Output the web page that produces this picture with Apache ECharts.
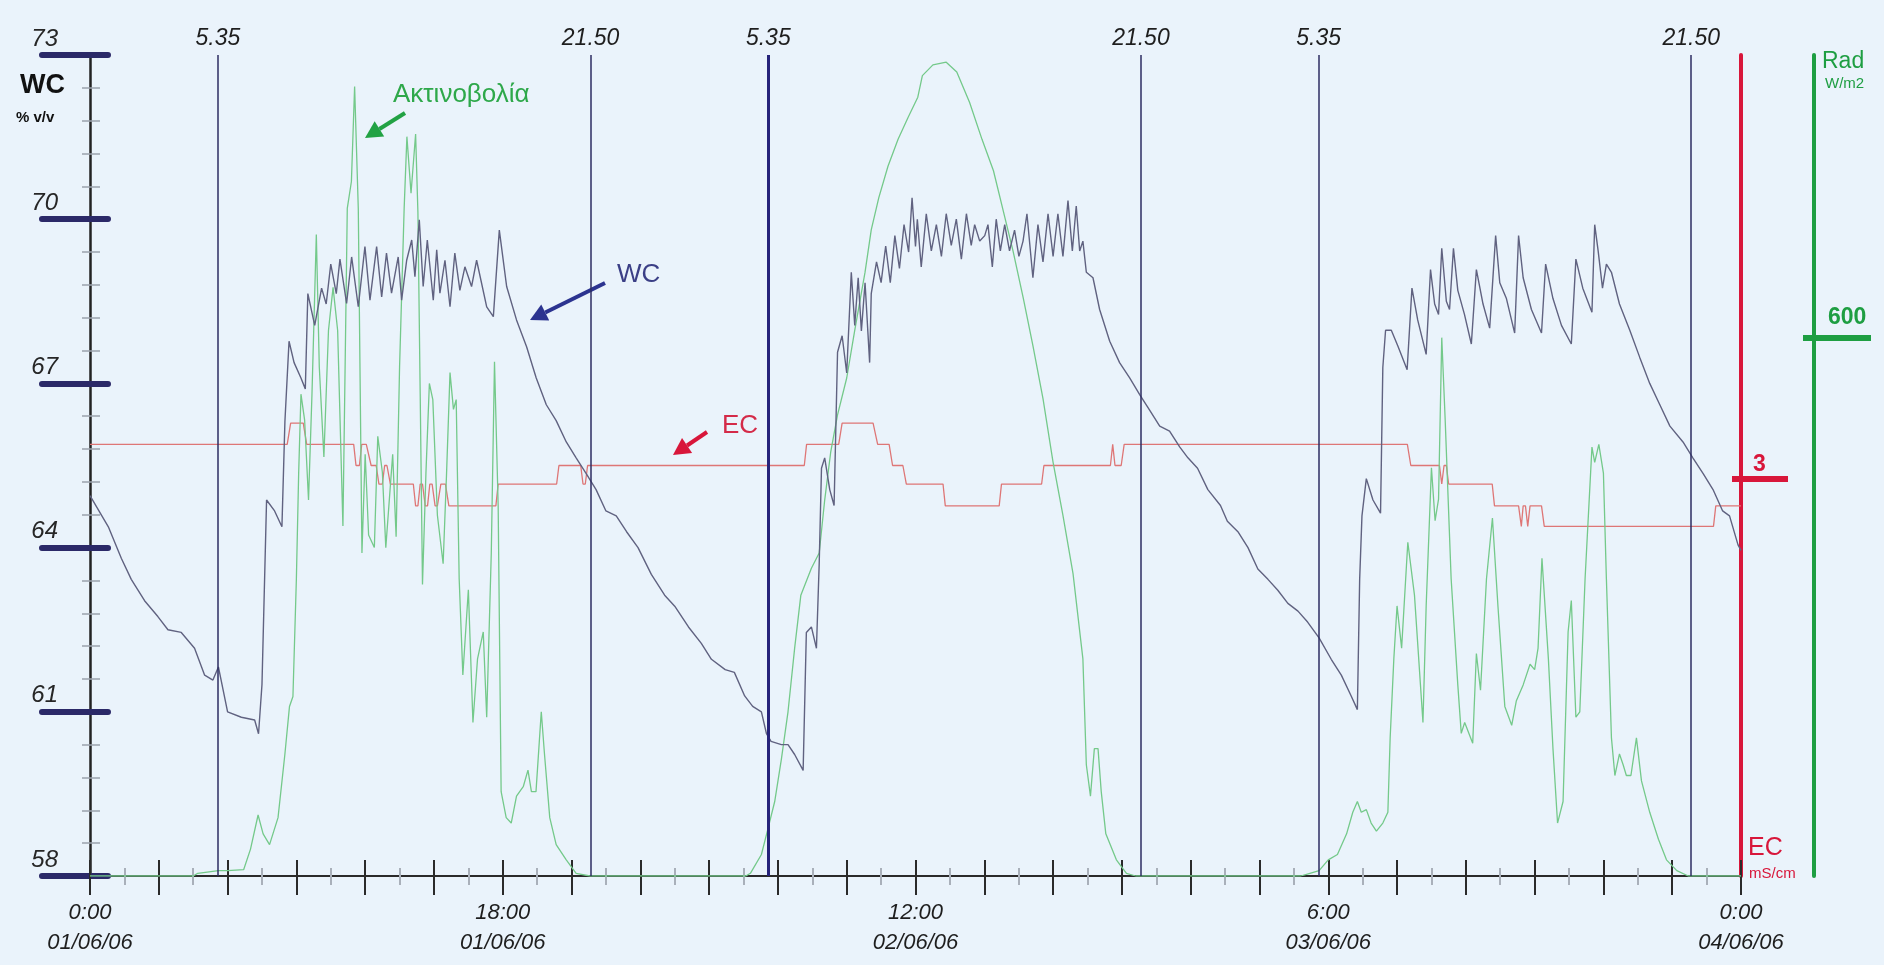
<!DOCTYPE html>
<html lang="el">
<head>
    <meta charset="UTF-8">
    <title>WC - EC - Rad</title>
    <script src="https://cdn.jsdelivr.net/npm/echarts@6/dist/echarts.min.js"></script>
    <style>
        html, body { margin: 0; padding: 0; background: #eaf3fb; }
        #main { width: 1884px; height: 965px; }
    </style>
</head>
<body>
<div id="main"></div>
<script>
    // hours from 01/06/06 0:00
    var xLabelHours = [0, 18, 36, 54, 72];
    var xLabelText = ['0:00\n01/06/06', '18:00\n01/06/06', '12:00\n02/06/06', '6:00\n03/06/06', '0:00\n04/06/06'];

    var markHours = [5.583, 21.833, 29.583, 45.833, 53.583, 69.833];
    var markText = ['5.35', '21.50', '5.35', '21.50', '5.35', '21.50'];

    // WC % v/v
    var wcData = [
        [0, 64.95], [0.8, 64.38], [1.37, 63.8], [1.8, 63.42], [2.38, 63.03], [2.96, 62.74], [3.4, 62.5], [3.98, 62.45],
        [4.56, 62.16], [5.0, 61.67], [5.36, 61.58], [5.6, 61.82], [6.0, 61.0], [6.6, 60.9], [7.18, 60.85], [7.35, 60.6],
        [7.5, 61.5], [7.7, 64.87], [8.05, 64.67], [8.37, 64.38], [8.5, 66.3], [8.68, 67.77], [8.9, 67.38], [9.2, 67.1],
        [9.39, 66.9], [9.5, 68.64], [9.8, 68.06], [10.1, 68.74], [10.3, 68.45], [10.5, 69.18], [10.74, 68.64], [10.9, 69.27],
        [11.19, 68.46], [11.41, 69.31], [11.7, 68.4], [11.99, 69.5], [12.21, 68.52], [12.5, 69.5], [12.72, 68.58], [12.93, 69.38],
        [13.15, 68.65], [13.44, 69.31], [13.59, 68.52], [13.81, 69.25], [14.03, 69.62], [14.17, 68.95], [14.36, 69.99], [14.53, 68.77],
        [14.71, 69.62], [14.97, 68.52], [15.12, 69.44], [15.26, 68.65], [15.48, 69.25], [15.7, 68.4], [15.91, 69.38], [16.13, 68.7],
        [16.35, 69.13], [16.64, 68.77], [16.86, 69.25], [17.3, 68.4], [17.59, 68.22], [17.85, 69.8], [18.17, 68.77], [18.6, 68.16],
        [19.04, 67.67], [19.46, 67.1], [19.9, 66.61], [20.33, 66.32], [20.77, 65.93], [21.2, 65.64], [21.64, 65.35], [22.07, 65.06],
        [22.5, 64.67], [22.95, 64.58], [23.4, 64.29], [23.9, 64.0], [24.48, 63.51], [25.06, 63.13], [25.5, 62.93], [26.1, 62.55],
        [26.66, 62.25], [27.1, 61.96], [27.7, 61.77], [28.1, 61.72], [28.55, 61.29], [28.9, 61.1], [29.28, 61.0], [29.5, 60.6],
        [29.7, 60.46], [30.15, 60.4], [30.44, 60.4], [30.73, 60.22], [31.1, 59.93], [31.24, 62.45], [31.46, 62.55], [31.68, 62.16],
        [31.8, 63.7], [31.9, 65.45], [32.04, 65.64], [32.26, 65.06], [32.45, 64.77], [32.6, 67.57], [32.8, 67.87], [33.0, 67.19],
        [33.2, 69.03], [33.35, 68.06], [33.5, 68.93], [33.64, 67.96], [33.8, 68.84], [34.0, 67.38], [34.07, 68.64], [34.3, 69.22],
        [34.5, 68.84], [34.7, 69.51], [34.9, 68.84], [35.1, 69.7], [35.3, 69.1], [35.5, 69.9], [35.7, 69.4], [35.85, 70.39],
        [36.0, 69.5], [36.08, 70.0], [36.25, 69.13], [36.47, 70.1], [36.69, 69.42], [36.91, 69.9], [37.13, 69.32], [37.34, 70.1],
        [37.56, 69.52], [37.78, 70.0], [38.0, 69.27], [38.22, 70.1], [38.43, 69.52], [38.58, 69.9], [38.8, 69.6], [39.02, 69.7],
        [39.16, 69.9], [39.35, 69.13], [39.52, 70.0], [39.7, 69.42], [39.89, 69.9], [40.1, 69.42], [40.32, 69.8], [40.51, 69.32],
        [40.69, 69.6], [40.86, 70.1], [41.12, 68.93], [41.34, 69.9], [41.56, 69.22], [41.78, 70.1], [42.0, 69.32], [42.21, 70.1],
        [42.43, 69.32], [42.65, 70.34], [42.84, 69.42], [43.01, 70.24], [43.16, 69.42], [43.3, 69.6], [43.45, 69.03], [43.74, 68.93],
        [44.03, 68.35], [44.47, 67.77], [44.9, 67.38], [45.34, 67.1], [45.77, 66.8], [46.21, 66.51], [46.65, 66.22], [47.08, 66.13],
        [47.52, 65.84], [47.88, 65.64], [48.3, 65.45], [48.75, 65.06], [49.3, 64.77], [49.6, 64.48], [50.06, 64.29], [50.5, 64.0],
        [50.93, 63.61], [51.37, 63.42], [51.8, 63.22], [52.24, 62.98], [52.68, 62.84], [53.1, 62.64], [53.6, 62.35], [54.13, 61.96],
        [54.57, 61.67], [55.0, 61.29], [55.27, 61.04], [55.37, 63.42], [55.47, 64.58], [55.66, 65.26], [55.95, 64.87], [56.28, 64.63],
        [56.38, 67.29], [56.5, 67.97], [56.75, 67.97], [57.04, 67.68], [57.44, 67.25], [57.65, 68.74], [57.9, 68.16], [58.27, 67.53],
        [58.46, 69.08], [58.64, 68.45], [58.81, 68.26], [58.95, 69.47], [59.15, 68.5], [59.29, 68.35], [59.46, 69.47], [59.65, 68.7],
        [59.94, 68.26], [60.24, 67.72], [60.46, 69.08], [60.75, 68.45], [61.04, 68.01], [61.3, 69.7], [61.48, 68.84], [61.77, 68.55],
        [62.13, 67.92], [62.3, 69.7], [62.5, 68.93], [62.86, 68.35], [63.3, 67.92], [63.48, 69.18], [63.8, 68.55], [64.17, 68.06],
        [64.6, 67.72], [64.8, 69.27], [65.1, 68.74], [65.5, 68.3], [65.62, 69.9], [65.77, 69.42], [65.96, 68.74], [66.13, 69.18],
        [66.35, 69.03], [66.7, 68.45], [67.15, 67.97], [67.58, 67.48], [68.02, 67.0], [68.46, 66.61], [68.9, 66.22], [69.47, 65.93],
        [69.9, 65.64], [70.35, 65.35], [70.78, 65.06], [71.2, 64.67], [71.5, 64.58], [71.87, 64.05], [72, 63.95]
    ];

    // radiation W/m2
    var radData = [
        [0, 0], [4.5, 0], [4.7, 3], [5.6, 6], [6.0, 6], [6.7, 7], [7.0, 30], [7.33, 68], [7.55, 47], [7.83, 35], [8.2, 65],
        [8.5, 136], [8.7, 189], [8.85, 200], [9.0, 331], [9.1, 449], [9.2, 537], [9.36, 508], [9.53, 419], [9.68, 537],
        [9.87, 715], [10.0, 567], [10.2, 467], [10.4, 608], [10.6, 656], [10.8, 608], [11.03, 390], [11.22, 744], [11.4, 774],
        [11.54, 880], [11.7, 744], [11.86, 360], [12.0, 470], [12.15, 380], [12.4, 366], [12.55, 490], [12.75, 450], [12.9, 366],
        [13.2, 470], [13.35, 378], [13.5, 567], [13.7, 744], [13.82, 824], [14.0, 761], [14.2, 827], [14.3, 740], [14.4, 537],
        [14.5, 325], [14.65, 449], [14.8, 549], [14.95, 531], [15.15, 402], [15.4, 348], [15.55, 449], [15.7, 561], [15.85, 520],
        [15.97, 531], [16.1, 331], [16.26, 224], [16.5, 319], [16.7, 171], [16.9, 242], [17.15, 272], [17.3, 177], [17.5, 360],
        [17.64, 573], [17.8, 413], [17.93, 94], [18.15, 65], [18.37, 59], [18.6, 89], [18.9, 100], [19.1, 118], [19.25, 94],
        [19.45, 94], [19.68, 183], [19.82, 136], [20.05, 65], [20.33, 35], [20.77, 18], [21.2, 3], [21.8, 0],
        [28.6, 0], [28.8, 3], [29.28, 24], [29.57, 53], [29.86, 83], [30.15, 130], [30.44, 183], [30.73, 254], [31.0, 313],
        [31.46, 343], [31.8, 360], [32.04, 419], [32.3, 472], [32.6, 514], [33.0, 555], [33.35, 608], [33.8, 673], [34.07, 720],
        [34.4, 756], [34.8, 791], [35.24, 821], [35.67, 845], [36.1, 868], [36.3, 892], [36.76, 904], [37.34, 907], [37.8, 896],
        [38.36, 862], [38.9, 821], [39.4, 786], [39.8, 744], [40.25, 697], [40.7, 644], [41.12, 591], [41.56, 532], [42.0, 461],
        [42.43, 402], [42.87, 337], [43.3, 242], [43.45, 124], [43.63, 89], [43.8, 142], [43.96, 142], [44.1, 94], [44.3, 47],
        [44.76, 18], [45.2, 3], [45.6, 0],
        [52.8, 0], [53.2, 3], [53.6, 6], [54.0, 18], [54.4, 24], [54.8, 47], [55.07, 71], [55.27, 83], [55.44, 71], [55.66, 74],
        [55.87, 59], [56.1, 50], [56.38, 59], [56.6, 71], [56.7, 154], [56.86, 242], [57.0, 301], [57.2, 254], [57.47, 372],
        [57.76, 313], [58.13, 171], [58.27, 301], [58.5, 455], [58.66, 396], [58.81, 420], [58.95, 600], [59.1, 508], [59.36, 331],
        [59.65, 213], [59.8, 159], [59.95, 171], [60.3, 148], [60.46, 248], [60.64, 207], [60.9, 331], [61.16, 399], [61.4, 301],
        [61.7, 189], [62.0, 168], [62.2, 195], [62.5, 213], [62.8, 236], [63.0, 230], [63.15, 254], [63.32, 354], [63.6, 242],
        [63.8, 142], [64.0, 59], [64.24, 83], [64.46, 272], [64.6, 307], [64.8, 177], [64.97, 183], [65.2, 331], [65.5, 478],
        [65.62, 461], [65.8, 481], [66.0, 449], [66.13, 331], [66.35, 154], [66.5, 112], [66.7, 136], [66.86, 124], [67.0, 112],
        [67.2, 112], [67.44, 154], [67.66, 106], [68.02, 71], [68.4, 41], [68.75, 18], [69.2, 6], [69.7, 0], [72, 0]
    ];

    // EC mS/cm
    var ecData = [
        [0, 3.26], [8.6, 3.26], [8.75, 3.42], [9.3, 3.42], [9.45, 3.26], [11.5, 3.26], [11.6, 3.10], [11.75, 3.10], [11.85, 3.26],
        [12.05, 3.26], [12.26, 3.10], [12.48, 3.10], [12.6, 2.96], [12.75, 2.96], [12.85, 3.10], [12.95, 3.10], [13.1, 2.96],
        [14.1, 2.96], [14.2, 2.795], [14.3, 2.795], [14.4, 2.96], [14.5, 2.96], [14.62, 2.795], [14.72, 2.795], [14.82, 2.96],
        [14.92, 2.96], [15.05, 2.795], [15.15, 2.795], [15.3, 2.96], [15.5, 2.96], [15.65, 2.795], [17.7, 2.795], [17.8, 2.96],
        [20.35, 2.96], [20.45, 3.10], [21.4, 3.10], [21.5, 2.96], [21.6, 2.96], [21.7, 3.10],
        [31.15, 3.10], [31.25, 3.26], [32.65, 3.26], [32.8, 3.42], [34.15, 3.42], [34.35, 3.26], [34.85, 3.26], [35.0, 3.10],
        [35.45, 3.10], [35.6, 2.96], [37.2, 2.96], [37.3, 2.795], [39.65, 2.795], [39.75, 2.96], [41.5, 2.96], [41.6, 3.10],
        [44.5, 3.10], [44.6, 3.26], [44.7, 3.10], [44.97, 3.10], [45.1, 3.26],
        [57.45, 3.26], [57.6, 3.10], [58.85, 3.10], [58.95, 2.96], [59.05, 3.10], [59.15, 3.10], [59.25, 2.96], [61.15, 2.96],
        [61.25, 2.795], [62.3, 2.795], [62.42, 2.64], [62.5, 2.795], [62.6, 2.795], [62.7, 2.64], [62.8, 2.795], [63.3, 2.795],
        [63.42, 2.64], [70.8, 2.64], [70.9, 2.795], [72, 2.795]
    ];

    var navy = '#2b2968';
    var red = '#d8163a';
    var green = '#1e9e42';
    var font = '"Liberation Sans", Arial, sans-serif';

    function arrow(x1, y1, x2, y2, color)
    {
        var a = Math.atan2(y2 - y1, x2 - x1);
        var len = 17, half = 9;
        var bx = x2 - len * Math.cos(a), by = y2 - len * Math.sin(a);
        var px = -Math.sin(a) * half, py = Math.cos(a) * half;
        return [
            { type: 'line', silent: true,
              shape: { x1: x1, y1: y1, x2: bx, y2: by },
              style: { stroke: color, lineWidth: 4 } },
            { type: 'polygon', silent: true,
              shape: { points: [[x2, y2], [bx + px, by + py], [bx - px, by - py]] },
              style: { fill: color } }
        ];
    }

    function txt(x, y, text, color, size, weight)
    {
        return { type: 'text', x: x, y: y, silent: true,
                 style: { text: text, fill: color, fontSize: size, fontWeight: weight || 'normal',
                          fontFamily: font, verticalAlign: 'top' } };
    }

    var chart = echarts.init(document.getElementById('main'));

    var markLines = markHours.map(function (h, i) {
        return {
            xAxis: h,
            label: { formatter: markText[i] },
            lineStyle: { type: 'solid', width: i === 2 ? 3 : 1.5, color: i === 2 ? '#26237a' : '#2c2d62' }
        };
    });

    var option = {
        backgroundColor: '#eaf3fb',
        animation: false,
        grid: { left: 90, right: 143, top: 55, bottom: 89 },
        xAxis: [{
            type: 'value', min: 0, max: 72, interval: 3, position: 'bottom',
            axisLine: { lineStyle: { color: '#2a2a2a', width: 2 } },
            axisTick: { length: 19, lineStyle: { color: '#2a2a2a', width: 2 } },
            minorTick: { show: true, splitNumber: 2, length: 9, lineStyle: { color: '#a9b0ba', width: 2 } },
            splitLine: { show: false },
            axisLabel: {
                customValues: xLabelHours,
                formatter: function (v) { return xLabelText[xLabelHours.indexOf(v)]; },
                margin: 22, fontSize: 22, lineHeight: 30, fontStyle: 'italic',
                color: '#1e1e1e', fontFamily: font
            }
        }, {
            type: 'value', min: 0, max: 72, interval: 3, position: 'bottom',
            axisLine: { show: false },
            axisTick: { inside: true, length: 16, lineStyle: { color: '#2a2a2a', width: 2 } },
            minorTick: { show: true, splitNumber: 2, length: 8, lineStyle: { color: '#a9b0ba', width: 2 } },
            splitLine: { show: false },
            axisLabel: { show: false }
        }],
        yAxis: [{
            type: 'value', min: 58, max: 73, interval: 3, position: 'left',
            axisLine: { show: true, lineStyle: { color: '#222', width: 2.5 } },
            axisTick: { length: 48, lineStyle: { color: navy, width: 6, cap: 'round' } },
            minorTick: { show: true, splitNumber: 5, length: 8, lineStyle: { color: '#9aa3ad', width: 1.5 } },
            splitLine: { show: false },
            axisLabel: {
                margin: 32, fontSize: 24, fontStyle: 'italic', color: '#262626', fontFamily: font,
                verticalAlign: 'bottom', padding: [0, 0, 4, 0]
            }
        }, {
            type: 'value', min: 58, max: 73, interval: 3, position: 'left',
            axisLine: { show: false },
            axisTick: { inside: true, length: 18, lineStyle: { color: navy, width: 6, cap: 'round' } },
            minorTick: { show: true, splitNumber: 5, length: 10, lineStyle: { color: '#9aa3ad', width: 1.5 } },
            splitLine: { show: false },
            axisLabel: { show: false }
        }, {
            type: 'value', min: 0, max: 6.2, position: 'right',
            axisLine: { show: true, lineStyle: { color: red, width: 4 } },
            axisTick: { customValues: [3], length: 47, lineStyle: { color: red, width: 6 } },
            splitLine: { show: false },
            axisLabel: {
                customValues: [3], margin: 12, fontSize: 23, fontWeight: 'bold', color: red, fontFamily: font,
                verticalAlign: 'bottom', padding: [0, 0, 3, 0]
            }
        }, {
            type: 'value', min: 0, max: 6.2, position: 'right',
            axisLine: { show: false },
            axisTick: { customValues: [3], inside: true, length: 9, lineStyle: { color: red, width: 6 } },
            splitLine: { show: false },
            axisLabel: { show: false }
        }, {
            type: 'value', min: 0, max: 915, position: 'right', offset: 73,
            axisLine: { show: true, lineStyle: { color: green, width: 4 } },
            axisTick: { customValues: [600], length: 57, lineStyle: { color: green, width: 6 } },
            splitLine: { show: false },
            axisLabel: {
                customValues: [600], margin: 14, fontSize: 23, fontWeight: 'bold', color: green, fontFamily: font,
                verticalAlign: 'bottom', padding: [0, 0, 8, 0]
            }
        }, {
            type: 'value', min: 0, max: 915, position: 'right', offset: 73,
            axisLine: { show: false },
            axisTick: { customValues: [600], inside: true, length: 11, lineStyle: { color: green, width: 6 } },
            splitLine: { show: false },
            axisLabel: { show: false }
        }],
        series: [{
            name: 'EC', type: 'line', yAxisIndex: 2, data: ecData,
            showSymbol: false, lineStyle: { color: '#de7676', width: 1.3 },
            markLine: {
                silent: true, symbol: 'none',
                label: { position: 'end', distance: 5, fontSize: 23, fontStyle: 'italic',
                         color: '#1e1e1e', fontFamily: font },
                data: markLines
            }
        }, {
            name: 'Rad', type: 'line', yAxisIndex: 4, data: radData,
            showSymbol: false, lineStyle: { color: '#74c98a', width: 1.3 }
        }, {
            name: 'WC', type: 'line', yAxisIndex: 0, data: wcData,
            showSymbol: false, lineStyle: { color: '#606280', width: 1.4 }
        }],
        graphic: [].concat(
            [txt(20, 72, 'WC', '#111', 27, 'bold'),
             txt(16, 110, '% v/v', '#111', 15, 'bold'),
             txt(393, 82, 'Ακτινοβολία', '#2ea84a', 26),
             txt(617, 262, 'WC', '#3b3f86', 26),
             txt(722, 413, 'EC', '#d42a48', 26),
             txt(1822, 50, 'Rad', green, 23),
             txt(1825, 76, 'W/m2', green, 15),
             txt(1748, 836, 'EC', red, 25),
             txt(1749, 866, 'mS/cm', red, 15)],
            arrow(405, 113, 365, 138, '#22a244'),
            arrow(605, 283, 530, 320, '#2c3490'),
            arrow(707, 432, 673, 455, red)
        )
    };

    chart.setOption(option);
</script>
</body>
</html>
